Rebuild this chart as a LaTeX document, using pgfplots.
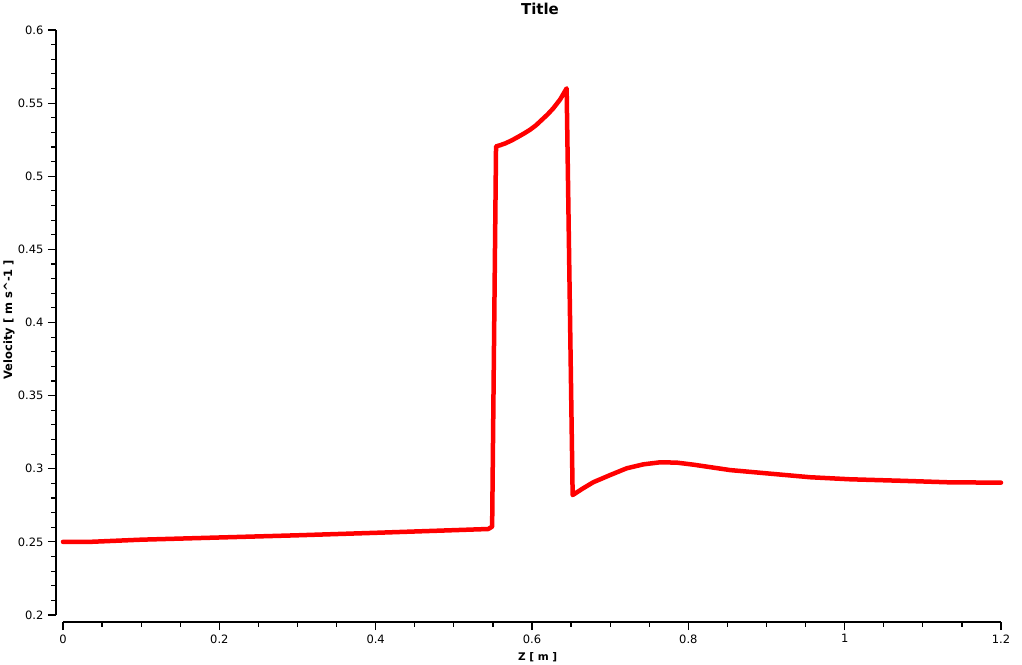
\documentclass[border=0pt]{standalone}
\usepackage{pgfplots}
\pgfplotsset{compat=1.18}
\usepackage{fontspec}
\setmainfont{DejaVu Sans}
\begin{document}
\begin{tikzpicture}[x=1pt,y=1pt]
\begin{axis}[
  at={(63pt,49pt)}, anchor=south west,
  scale only axis, width=938pt, height=585pt,
  xmin=0, xmax=1.2, ymin=0.2, ymax=0.6,
  axis x line*=bottom, axis y line*=left,
  separate axis lines,
  axis x line shift=7pt, axis y line shift=7pt,
  axis line style={-, line width=1.4pt, black},
  xtick={0,0.2,...,1.2}, ytick={0.2,0.25,...,0.6},
  minor x tick num=3, minor y tick num=4,
  tick align=outside,
  major tick length=8pt, minor tick length=4.5pt,
  every tick/.style={black, line width=1.2pt},
  /pgf/number format/assume math mode=true,
  /pgf/number format/fixed,
  /pgf/number format/precision=2,
  tick label style={font=\fontsize{11.5}{13}\selectfont, text=black},
  yticklabel style={xshift=-1pt},
  xticklabel style={yshift=-1pt},
  xlabel={\bfseries Z [ m ]},
  xlabel style={at={(axis description cs:0.506,-0.072)}, anchor=center, font=\fontsize{10.5}{12}\selectfont},
  ylabel={\bfseries Velocity [ m s\textasciicircum-1 ]},
  ylabel style={at={(axis description cs:-0.0577,0.505)}, anchor=center, rotate=0, font=\fontsize{11.5}{13}\selectfont},
  clip=false,
]
\addplot[red, line width=4.5pt, line join=round, line cap=round] coordinates {
(0,0.2500) (0.034,0.2500) (0.10,0.2515) (0.20,0.2530) (0.267,0.2540) (0.30,0.2545)
(0.40,0.2562) (0.50,0.2580) (0.544,0.2588) (0.549,0.2604)
(0.554,0.5204) (0.559,0.5212) (0.5655,0.5224) (0.574,0.5245) (0.5825,0.5270) (0.590,0.5293)
(0.5975,0.5318) (0.605,0.5348) (0.6124,0.5385) (0.620,0.5423) (0.6273,0.5465)
(0.636,0.5525) (0.6443,0.5601)
(0.652,0.2820) (0.665,0.2865) (0.6785,0.2908) (0.70,0.2957) (0.7211,0.3003) (0.7424,0.3030)
(0.7637,0.3044) (0.785,0.3042) (0.8064,0.3028) (0.8533,0.2991) (0.9557,0.2942)
(1.0068,0.2928) (1.0708,0.2918) (1.1348,0.2907) (1.2,0.2905)
};
\node[anchor=center, font=\fontsize{15}{17}\selectfont\bfseries] at (axis description cs:0.5085,1.0356) {Title};
\end{axis}
\pgfresetboundingbox
\path (0,0) rectangle (1022pt,664pt);
\end{tikzpicture}
\end{document}
